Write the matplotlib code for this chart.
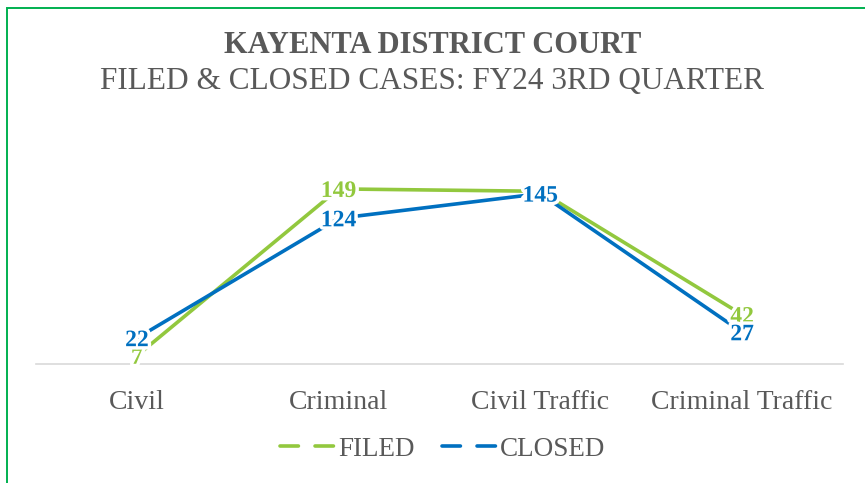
import matplotlib
matplotlib.use("Agg")
import matplotlib.pyplot as plt
import matplotlib.patheffects as pe
from matplotlib.lines import Line2D
from matplotlib.patches import Rectangle

categories = ["Civil", "Criminal", "Civil Traffic", "Criminal Traffic"]
filed = [7, 149, 147, 42]
closed = [22, 124, 145, 27]
series_names = ["FILED", "CLOSED"]
title_main = "KAYENTA DISTRICT COURT"
title_sub = "FILED & CLOSED CASES: FY24 3RD QUARTER"

GREEN = "#92C83E"
BLUE = "#0070C0"
GRAY = "#595959"
FONT = "Liberation Serif"

plt.rcParams['font.family'] = [FONT, 'DejaVu Serif']

fig = plt.figure(figsize=(8.65, 4.83), dpi=100)
fig.patch.set_facecolor("white")

# green frame (open on right/bottom as in the cropped reference)
fig.patches.append(Rectangle((7/865, -0.1), 1.2, 1 - 8/483 + 0.1, transform=fig.transFigure,
                             fill=False, edgecolor="#00B050", linewidth=1.4))

ax = fig.add_axes([36/865, 119/483, 807/865, 188/483])
x = list(range(len(categories)))
ax.plot(x, filed, color=GREEN, lw=2.6, zorder=2, clip_on=False, solid_capstyle="butt")
ax.plot(x, closed, color=BLUE, lw=2.6, zorder=3, clip_on=False, solid_capstyle="butt")

glow = [pe.withStroke(linewidth=5, foreground="white")]
for xi, v in zip(x, filed):
    ax.text(xi, v, str(v), color=GREEN, fontsize=17, fontweight="bold", ha="center",
            va="center_baseline", zorder=4, path_effects=glow)
for xi, v in zip(x, closed):
    ax.text(xi, v, str(v), color=BLUE, fontsize=17, fontweight="bold", ha="center",
            va="center_baseline", zorder=5, path_effects=glow)

ax.set_xlim(-0.5, len(categories) - 0.5)
ax.set_ylim(0, 160)
for s in ["top", "right", "left"]:
    ax.spines[s].set_visible(False)
ax.spines["bottom"].set_color("#D9D9D9")
ax.spines["bottom"].set_linewidth(1.2)
ax.spines["bottom"].set_zorder(1)
ax.set_yticks([])
ax.set_xticks(x)
ax.set_xticklabels(categories, fontsize=20, color=GRAY)
ax.tick_params(axis="x", length=0, pad=19)
ax.set_facecolor("none")

fig.text(0.5, 1 - 53/483, title_main, ha="center", va="baseline", fontsize=22, fontweight="bold", color=GRAY)
fig.text(0.5, 1 - 89/483, title_sub, ha="center", va="baseline", fontsize=22.5, color=GRAY)

handles = [Line2D([0], [0], color=GREEN, lw=2.6, linestyle=(0, (5.1, 4.6)), dash_capstyle="round"),
           Line2D([0], [0], color=BLUE, lw=2.6, linestyle=(0, (5.1, 4.6)), dash_capstyle="round")]
leg = fig.legend(handles, series_names, loc="center", bbox_to_anchor=(0.512, 1 - 449/483), ncol=2,
                 frameon=False, fontsize=19.5, labelcolor=GRAY, handlelength=2.0, handletextpad=0.15,
                 columnspacing=1.0)

fig.savefig("out.png", dpi=100, facecolor="white")
